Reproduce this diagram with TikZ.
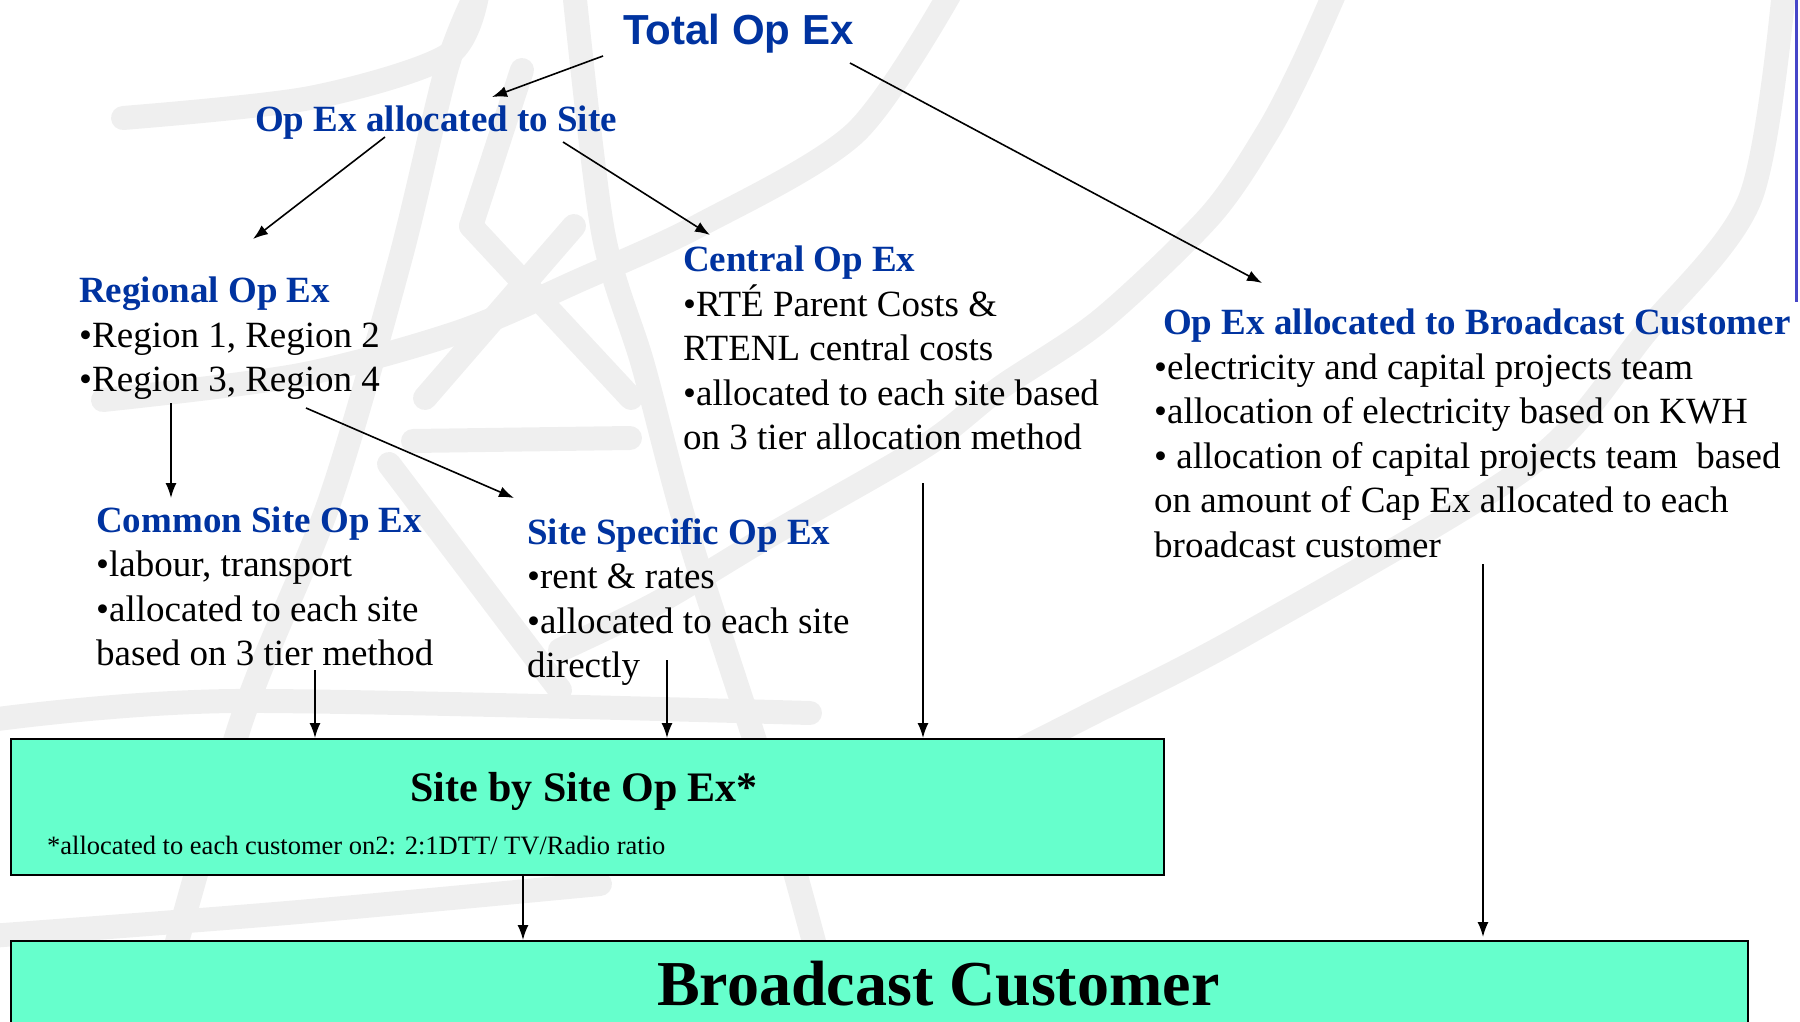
\documentclass[tikz,border=0pt]{standalone}
\usepackage{fontspec}
\setmainfont{Liberation Serif}
\newfontfamily\hsans{Liberation Sans}
\usetikzlibrary{arrows.meta}
\definecolor{hblue}{RGB}{0,51,160}
\definecolor{mint}{RGB}{102,255,204}
\definecolor{wm}{RGB}{239,239,239}
\definecolor{edgeblue}{RGB}{70,70,200}
\newcommand\hdr[1]{{\color{hblue}\bfseries #1}}
\newcommand\nsp{\spaceskip=0pt\xspaceskip=0pt\relax}
\begin{document}
\begin{tikzpicture}[x=1pt,y=-1pt,
  txt/.style={inner sep=0pt, anchor=base west, align=left, font=\fontsize{37}{44.5}\selectfont},
  conn/.style={line width=1.6pt, -{Latex[length=15pt,width=11pt]}},
  band/.style={draw=wm, line width=24pt, line cap=round, line join=round},
  box/.style={draw=black, line width=2.2pt, fill=mint, inner sep=0pt, anchor=north west}]
\clip (0,0) rectangle (1800,1022);
% watermark
\draw[band] plot[smooth] coordinates {(123,118) (310,98) (448,55) (478,-10)};
\draw[band] plot[smooth] coordinates {(478,-10) (447,67) (400,260) (330,500) (241,722) (150,1040)};
\draw[band] (522,70) -- (471,226);
\draw[band] plot[smooth] coordinates {(574,-10) (603,232) (643,365) (690,540) (780,820) (840,1040)};
\draw[band] (471,226) -- (631,398);
\draw[band] (574,226) -- (425,398);
\draw[band] (413,441) -- (630,438);
\draw[band] (389,464) -- (560,690);
\draw[band] plot[smooth] coordinates {(-10,720) (235,701) (810,713)};
\draw[band] plot[smooth] coordinates {(-10,936) (287,913) (600,884)};
\draw[band] plot[smooth] coordinates {(103,400) (300,375) (459,332) (580,280) (700,225) (855,133) (952,-10)};
\draw[band] plot[smooth] coordinates {(1336,-10) (1302,66) (1267,133) (1210,216) (1101,320) (1000,388) (925,446) (769,536) (657,603) (560,650)};
\draw[band] plot[smooth] coordinates {(1784,-10) (1750,199) (1646,332) (1531,464) (1244,635) (1089,715) (1000,760)};
\draw[draw=edgeblue, line width=3pt] (1796,0) -- (1796,302);
% text blocks
\node[anchor=base west, inner sep=0pt, text=hblue, font=\hsans\bfseries\fontsize{42}{50}\selectfont] (total) at (623,45) {Total Op Ex};
\node[anchor=base west, inner sep=0pt, text=hblue, font=\bfseries\fontsize{37}{44.5}\selectfont] (site) at (255,132) {Op Ex allocated to Site};
\node[txt, text width=320pt] (regional) at (79,302.5) {\nsp\hdr{Regional Op Ex}\\•Region 1, Region 2\\•Region 3, Region 4};
\node[txt, text width=440pt] (central) at (683,271.5) {\nsp\hdr{Central Op Ex}\\•RTÉ Parent Costs \&\\RTENL central costs\\•allocated to each site based\\on 3 tier allocation method};
\node[txt, text width=660pt] (bcalloc) at (1154,334.5) {\nsp\hspace*{9pt}\hdr{Op Ex allocated to Broadcast Customer}\\•electricity and capital projects team\\•allocation of electricity based on KWH\\•\ allocation of capital projects team\ \ based\\on amount of Cap Ex allocated to each\\broadcast customer};
\node[txt, text width=420pt] (common) at (96,532) {\nsp\hdr{Common Site Op Ex}\\•labour, transport\\•allocated to each site\\based on 3 tier method};
\node[txt, text width=420pt] (specific) at (527,544) {\nsp\hdr{Site Specific Op Ex}\\•rent \& rates\\•allocated to each site\\directly};
% boxes
\node[box, minimum width=1153pt, minimum height=136pt] (sbs) at (10,738) {};
\node[anchor=base west, inner sep=0pt, font=\bfseries\fontsize{42}{50}\selectfont] (sbst) at (410,801) {Site by Site Op Ex*};
\node[anchor=base west, inner sep=0pt, font=\fontsize{26.5}{30}\selectfont] (sbsn) at (47,854) {*allocated to each customer on2: 2:1DTT/ TV/Radio ratio};
\node[box, minimum width=1737pt, minimum height=120pt] (bc) at (10,940) {};
\node[anchor=base west, inner sep=0pt, font=\bfseries\fontsize{64}{70}\selectfont] (bct) at (657,1005) {Broadcast Customer};
% connector ends
\coordinate (a1) at (603,56);  \coordinate (a2) at (492,97);
\coordinate (b1) at (385,137); \coordinate (b2) at (253,239);
\coordinate (c1) at (563,142); \coordinate (c2) at (710,235);
\coordinate (d1) at (850,63);  \coordinate (d2) at (1262,283);
\coordinate (e1) at (171,403); \coordinate (e2) at (171,498);
\coordinate (f1) at (306,408); \coordinate (f2) at (514,498);
\coordinate (g1) at (315,670); \coordinate (g2) at (315,738);
\coordinate (h1) at (667,660); \coordinate (h2) at (667,738);
\coordinate (i1) at (923,483); \coordinate (i2) at (923,738);
\coordinate (j1) at (523,874); \coordinate (j2) at (523,940);
\coordinate (k1) at (1483,564); \coordinate (k2) at (1483,937);
\draw[conn] (a1) -- (a2);
\draw[conn] (b1) -- (b2);
\draw[conn] (c1) -- (c2);
\draw[conn] (d1) -- (d2);
\draw[conn] (e1) -- (e2);
\draw[conn] (f1) -- (f2);
\draw[conn] (g1) -- (g2);
\draw[conn] (h1) -- (h2);
\draw[conn] (i1) -- (i2);
\draw[conn] (j1) -- (j2);
\draw[conn] (k1) -- (k2);
\end{tikzpicture}
\end{document}
